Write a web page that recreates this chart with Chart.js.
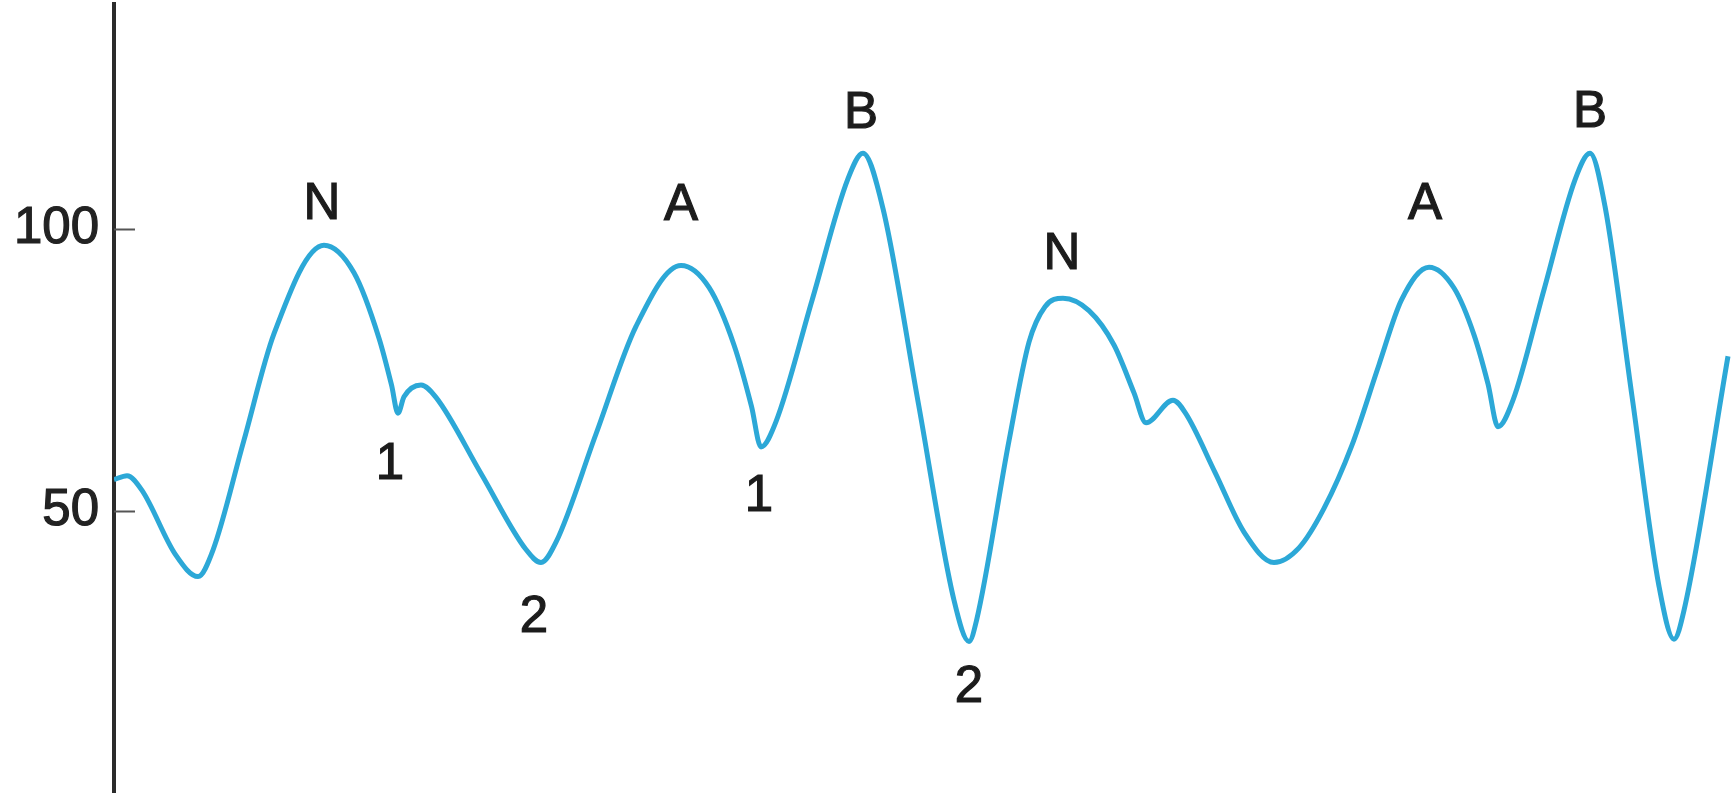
<!DOCTYPE html>
<html lang="es">
<head>
    <meta charset="UTF-8">
    <title>Curva de presión</title>
    <script src="https://cdn.jsdelivr.net/npm/chart.js"></script>
    <style>
        body { margin: 0; padding: 0; background-color: #fff; }
        .chart-container { position: relative; width: 1734px; height: 793px; }
    </style>
</head>
<body>
    <div class="chart-container">
        <canvas id="curvaChart"></canvas>
    </div>
    <script>
        // Tiempo (s) y valor de la curva
        const tiempos = [
            0.000, 0.026, 0.056, 0.123, 0.168, 0.198, 0.259, 0.320, 0.420, 0.480,
            0.530, 0.555, 0.568, 0.580, 0.614, 0.644, 0.734, 0.824, 0.854, 0.884,
            0.964, 1.044, 1.134, 1.190, 1.240, 1.275, 1.294, 1.324, 1.396, 1.468,
            1.498, 1.538, 1.609, 1.680, 1.710, 1.725, 1.790, 1.830, 1.862, 1.898,
            1.950, 2.000, 2.040, 2.064, 2.118, 2.143, 2.202, 2.260, 2.320, 2.370,
            2.420, 2.475, 2.530, 2.575, 2.630, 2.680, 2.720, 2.748, 2.768, 2.798,
            2.860, 2.922, 2.952, 2.982, 3.036, 3.090, 3.120, 3.140, 3.228
        ];
        const valores = [
            55.6, 56.3, 53.7, 42.3, 38.4, 43.1, 62.3, 81.5, 97.2, 92.3,
            80.7, 72.4, 67.4, 70.3, 72.4, 70.2, 56.7, 43.2, 40.9, 44.5,
            63.7, 82.8, 93.6, 89.7, 79.5, 68.6, 61.4, 65.9, 87.4, 109.0,
            113.5, 103.7, 69.0, 34.2, 26.9, 30.6, 62.5, 80.0, 86.3, 87.8,
            85.6, 79.5, 71.0, 65.7, 69.7, 67.4, 56.9, 46.3, 40.9, 43.5,
            50.5, 61.5, 76.0, 87.5, 93.3, 89.6, 81.3, 72.6, 65.0, 69.7,
            89.3, 108.8, 113.5, 104.1, 70.4, 36.7, 27.3, 32.4, 77.5
        ];

        // Marcas del eje vertical
        const marcasY = [50, 100];

        // Letras sobre picos y valles (por tiempo del punto)
        const etiquetas = ['N', '1', '2', 'A', '1', 'B', '2', 'N', 'A', 'B'];
        const tiemposEtiqueta = [0.420, 0.568, 0.854, 1.134, 1.294, 1.498, 1.710, 1.898, 2.630, 2.952];

        // Desplazamiento de cada letra respecto a su punto (px)
        const desplazamientos = [
            [-2, -40], [-8, 52], [-7, 55], [0, -60], [-2, 50],
            [-2, -39], [0, 47], [-1, -43], [-4, -62], [0, -40]
        ];

        const FUENTE = "'Liberation Sans', Arial, Helvetica, sans-serif";

        // Marcas cortas hacia dentro del eje y letras de la curva
        const anotaciones = {
            id: 'anotaciones',
            afterDatasetsDraw(chart) {
                const ctx = chart.ctx;
                const x = chart.scales.x;
                const y = chart.scales.y;
                const izq = chart.chartArea.left;

                ctx.save();
                ctx.strokeStyle = '#555';
                ctx.lineWidth = 2;
                marcasY.forEach(v => {
                    const py = Math.round(y.getPixelForValue(v)) + 0.5;
                    ctx.beginPath();
                    ctx.moveTo(izq, py);
                    ctx.lineTo(izq + 21, py);
                    ctx.stroke();
                });

                ctx.fillStyle = '#1c1c1c';
                ctx.strokeStyle = '#1c1c1c';
                ctx.lineWidth = 1.2;
                ctx.font = '51px ' + FUENTE;
                ctx.textAlign = 'center';
                ctx.textBaseline = 'middle';
                etiquetas.forEach((txt, k) => {
                    const i = tiempos.indexOf(tiemposEtiqueta[k]);
                    const px = x.getPixelForValue(tiempos[i]) + desplazamientos[k][0];
                    const py = y.getPixelForValue(valores[i]) + desplazamientos[k][1];
                    ctx.fillText(txt, px, py);
                    ctx.strokeText(txt, px, py);
                });
                ctx.restore();
            }
        };

        const ctxCurva = document.getElementById('curvaChart').getContext('2d');
        new Chart(ctxCurva, {
            type: 'line',
            data: {
                datasets: [{
                    data: tiempos.map((t, i) => ({ x: t, y: valores[i] })),
                    borderColor: '#2ca8d7',
                    borderWidth: 5,
                    pointRadius: 0,
                    cubicInterpolationMode: 'monotone',
                    fill: false
                }]
            },
            options: {
                responsive: true,
                maintainAspectRatio: false,
                animation: false,
                layout: { padding: { top: 4, right: 0, bottom: 0, left: 0 } },
                plugins: {
                    legend: { display: false },
                    tooltip: { enabled: false },
                    title: { display: false }
                },
                scales: {
                    x: {
                        type: 'linear',
                        display: false,
                        min: 0,
                        max: 3.24
                    },
                    y: {
                        min: 0,
                        max: 140,
                        afterBuildTicks: s => { s.ticks = marcasY.map(v => ({ value: v })); },
                        afterFit: s => { s.width = 114; s.paddingTop = 0; s.paddingBottom = 0; },
                        grid: { display: false, drawTicks: false },
                        border: { display: true, color: '#2b2b2b', width: 4 },
                        ticks: {
                            padding: 15,
                            color: '#222',
                            textStrokeColor: '#222',
                            textStrokeWidth: 1.2,
                            font: { family: FUENTE, size: 51 }
                        }
                    }
                }
            },
            plugins: [anotaciones]
        });
    </script>
</body>
</html>
